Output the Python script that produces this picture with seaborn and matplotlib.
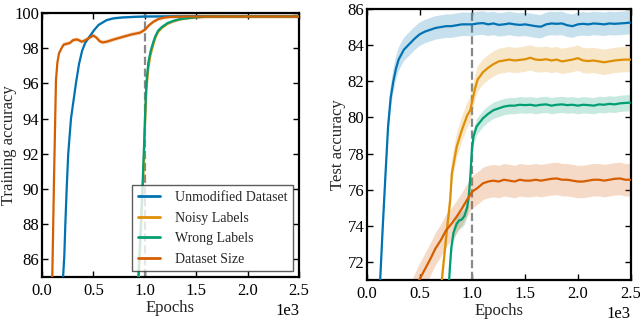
import matplotlib
matplotlib.use('Agg')
import matplotlib.pyplot as plt
import seaborn as sns
import pandas as pd

# Подписи серий
labels = ['Unmodified Dataset', 'Noisy Labels', 'Wrong Labels', 'Dataset Size']

# Точность на обучении (левая панель)
train_ep_unmod = [0, 100, 150, 190, 205, 217, 227, 240, 255, 282, 330, 360, 390, 420, 467, 510,
                  550, 630, 700, 790, 900, 1000, 1500, 2000, 2500]
train_acc_unmod = [20, 50, 72, 82.5, 85.0, 86.2, 88, 90, 92, 94, 96, 97.1, 97.85, 98.3, 98.7, 99.05,
                   99.32, 99.6, 99.7, 99.75, 99.78, 99.8, 99.82, 99.82, 99.82]

train_ep_noisy = [800, 900, 937, 950, 965, 980, 993, 1003, 1015, 1035, 1055, 1080, 1100, 1130, 1165,
                  1220, 1277, 1340, 1407, 1500, 1600, 2000, 2500]
train_acc_noisy = [55, 76, 84.5, 86.0, 88.0, 90.0, 92.0, 93.8, 95.6, 96.9, 97.6, 98.15, 98.55, 98.92, 99.15,
                   99.38, 99.52, 99.63, 99.7, 99.75, 99.79, 99.8, 99.8]

train_ep_wrong = [800, 900, 937, 950, 965, 980, 993, 1003, 1015, 1035, 1055, 1080, 1100, 1130, 1165,
                  1220, 1277, 1340, 1407, 1500, 1600, 2000, 2500]
train_acc_wrong = [60, 78, 85.0, 86.5, 88.5, 90.5, 92.5, 94.2, 96.0, 97.2, 97.8, 98.3, 98.65, 99.0, 99.2,
                   99.42, 99.55, 99.65, 99.7, 99.76, 99.8, 99.8, 99.8]

train_ep_size = [0, 80, 100, 117, 136, 150, 165, 190, 210, 240, 272, 300, 337, 360, 386, 410, 434, 470,
                 499, 530, 560, 590, 630, 700, 790, 870, 953, 1002, 1040, 1083, 1130, 1180, 1250, 1400, 2500]
train_acc_size = [30, 70, 85.0, 90.6, 96.2, 97.2, 97.7, 98.0, 98.2, 98.25, 98.3, 98.45, 98.5, 98.45, 98.37,
                  98.42, 98.5, 98.62, 98.72, 98.6, 98.4, 98.33, 98.37, 98.5, 98.65, 98.78, 98.88, 99.05,
                  99.3, 99.5, 99.65, 99.73, 99.78, 99.8, 99.8]

train_spread = [0.08, 0.08, 0.08, 0.12]

# Точность на тесте (правая панель)
test_ep_unmod = [100, 125, 150, 175, 200, 225, 250, 275, 300, 350, 400, 450, 500, 550, 600, 650, 700,
                 750, 800, 850, 900, 950, 1000, 1050, 1100, 1150, 1200, 1250, 1300, 1350, 1400, 1450,
                 1500, 1550, 1600, 1650, 1700, 1750, 1800, 1850, 1900, 1950, 2000, 2050, 2100, 2150,
                 2200, 2250, 2300, 2350, 2400, 2450, 2500]
test_acc_unmod = [66, 71.0, 74.0, 76.8, 79.5, 81.1, 82.0, 82.7, 83.2, 83.75, 84.05, 84.35, 84.6, 84.75,
                  84.85, 84.95, 85.0, 85.05, 85.05, 85.1, 85.15, 85.15, 85.15, 85.2, 85.22, 85.15, 85.2,
                  85.12, 85.15, 85.2, 85.15, 85.12, 85.15, 85.1, 85.05, 85.02, 85.15, 85.2, 85.18, 85.2,
                  85.1, 85.05, 85.15, 85.18, 85.15, 85.2, 85.18, 85.15, 85.2, 85.18, 85.2, 85.22, 85.25]

test_ep_noisy = [650, 710, 757, 789, 805, 852, 900, 950, 980, 1000, 1025, 1050, 1100, 1150, 1200, 1250,
                 1300, 1350, 1400, 1450, 1500, 1550, 1600, 1650, 1700, 1750, 1800, 1850, 1900, 1950,
                 2000, 2050, 2100, 2150, 2200, 2250, 2300, 2350, 2400, 2450, 2500]
test_acc_noisy = [65, 71.0, 73.7, 75.4, 76.9, 78.4, 79.3, 80.1, 80.4, 80.95, 81.6, 82.1, 82.5, 82.75,
                  82.95, 83.1, 83.15, 83.2, 83.15, 83.18, 83.22, 83.3, 83.2, 83.18, 83.22, 83.15, 83.2,
                  83.1, 83.15, 83.2, 83.28, 83.15, 83.12, 83.15, 83.1, 83.05, 83.1, 83.15, 83.18, 83.2, 83.2]

test_ep_wrong = [740, 779, 790, 800, 820, 850, 875, 900, 925, 950, 965, 980, 995, 1010, 1040, 1100,
                 1150, 1200, 1250, 1300, 1350, 1400, 1450, 1500, 1550, 1600, 1650, 1700, 1750, 1800,
                 1850, 1900, 1950, 2000, 2050, 2100, 2150, 2200, 2250, 2300, 2350, 2400, 2450, 2500]
test_acc_wrong = [65, 71.0, 72.0, 72.8, 73.6, 74.1, 74.3, 74.35, 74.55, 75.0, 75.6, 76.7, 78.2, 78.95,
                  79.5, 79.95, 80.2, 80.4, 80.5, 80.6, 80.65, 80.65, 80.7, 80.68, 80.7, 80.65, 80.7,
                  80.72, 80.65, 80.7, 80.72, 80.68, 80.7, 80.65, 80.7, 80.68, 80.65, 80.72, 80.7, 80.75,
                  80.72, 80.78, 80.8, 80.82]

test_ep_size = [400, 495, 550, 600, 650, 700, 750, 800, 850, 900, 950, 1000, 1050, 1100, 1150, 1200,
                1250, 1300, 1350, 1400, 1450, 1500, 1550, 1600, 1650, 1700, 1750, 1800, 1850, 1900,
                1950, 2000, 2050, 2100, 2150, 2200, 2250, 2300, 2350, 2400, 2450, 2500]
test_acc_size = [69.8, 71.0, 71.6, 72.15, 72.75, 73.2, 73.75, 74.1, 74.5, 74.95, 75.45, 75.9, 76.1,
                 76.35, 76.45, 76.5, 76.45, 76.55, 76.5, 76.45, 76.55, 76.5, 76.5, 76.55, 76.5, 76.55,
                 76.6, 76.62, 76.55, 76.55, 76.5, 76.45, 76.45, 76.5, 76.55, 76.55, 76.5, 76.55, 76.6,
                 76.62, 76.55, 76.55]

test_spread = [0.65, 0.7, 0.45, 0.9]


def make_frame(eps, accs, spreads):
    parts = []
    for lab, e, a, s in zip(labels, eps, accs, spreads):
        df = pd.DataFrame({'Epochs': e, 'Accuracy': a})
        df['Run'] = lab
        df['lo'] = df['Accuracy'] - s
        df['hi'] = df['Accuracy'] + s
        parts.append(df)
    return pd.concat(parts, ignore_index=True)


train_df = make_frame([train_ep_unmod, train_ep_noisy, train_ep_wrong, train_ep_size],
                      [train_acc_unmod, train_acc_noisy, train_acc_wrong, train_acc_size], train_spread)
test_df = make_frame([test_ep_unmod, test_ep_noisy, test_ep_wrong, test_ep_size],
                     [test_acc_unmod, test_acc_noisy, test_acc_wrong, test_acc_size], test_spread)

sns.set_style('ticks')
plt.rcParams['font.family'] = ['Liberation Serif', 'DejaVu Serif']

palette = dict(zip(labels, sns.color_palette('colorblind')[:4]))

fig = plt.figure(figsize=(6.4, 3.21), dpi=100)
ax1 = fig.add_axes([42 / 640, 44 / 321, 257 / 640, 264 / 321])
ax2 = fig.add_axes([367 / 640, 41 / 321, 263.5 / 640, 271 / 321])

panels = [(ax1, train_df, (85, 100), 'Training accuracy', range(86, 101, 2), -0.098),
          (ax2, test_df, (71, 86), 'Test accuracy', range(72, 87, 2), -0.08)]

for ax, df, ylim, ylab, yticks, ylab_x in panels:
    ax.axvline(1000, color='#888888', lw=1.6, ls='--', zorder=1)
    for lab in labels:
        d = df[df['Run'] == lab]
        ax.fill_between(d['Epochs'], d['lo'], d['hi'], color=palette[lab], alpha=0.22, lw=0, zorder=2)
    sns.lineplot(data=df, x='Epochs', y='Accuracy', hue='Run', hue_order=labels, palette=palette,
                 lw=1.6, ax=ax, legend=False, zorder=3)
    ax.set_xlim(0, 2500)
    ax.set_ylim(*ylim)
    ax.set_yticks(list(yticks))
    ax.ticklabel_format(axis='x', style='sci', scilimits=(0, 0))
    ax.set_xlabel('Epochs', fontsize=12, labelpad=1)
    ax.set_ylabel(ylab, fontsize=12)
    ax.yaxis.set_label_coords(ylab_x, 0.5)
    ax.tick_params(direction='in', top=True, right=True, length=4, width=1, labelsize=12, colors='black')
    ax.tick_params(axis='y', pad=2)
    ax.tick_params(axis='x', pad=4)
    ax.xaxis.get_offset_text().set_fontsize(12)
    for sp in ax.spines.values():
        sp.set_linewidth(1.6)
        sp.set_color('black')

handles = [plt.Line2D([], [], color=palette[lab], lw=2) for lab in labels]
leg = ax1.legend(handles, labels, loc='lower right', fontsize=10, fancybox=False, framealpha=0.8,
                 edgecolor='#333333', borderaxespad=0.4, handlelength=1.6, labelspacing=0.55,
                 handletextpad=1.1)
leg.get_frame().set_linewidth(1.0)

fig.savefig('out.png', dpi=100)
